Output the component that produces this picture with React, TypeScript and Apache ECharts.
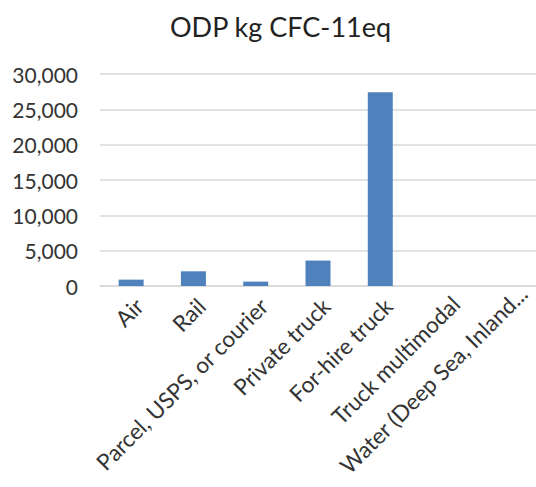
import React, { useEffect, useRef } from "react";
import * as echarts from "echarts";

const titleText = "ODP kg CFC-11eq";
const categories = [
  "Air",
  "Rail",
  "Parcel, USPS, or courier",
  "Private truck",
  "For-hire truck",
  "Truck multimodal",
  "Water (Deep Sea, Inland...",
];
const values = [900, 2080, 620, 3600, 27400, 0, 0];
const yTicks = { min: 0, max: 30000, interval: 5000 };

export default function App() {
  const ref = useRef<HTMLDivElement>(null);
  useEffect(() => {
    if (!ref.current) return;
    const chart = echarts.init(ref.current, null, { renderer: "svg" });
    const font = "Lato, 'Open Sans', sans-serif";
    const labelFont = { fontFamily: font, fontSize: 22.5, color: "#333" };
    chart.setOption({
      animation: false,
      title: {
        text: titleText,
        left: 165,
        top: 8,
        textStyle: { fontFamily: font, fontSize: 27, fontWeight: "normal", color: "#222" },
      },
      grid: {
        left: 100,
        right: 0,
        top: 74,
        bottom: 201,
        containLabel: false,
        outerBoundsMode: "none",
      },
      xAxis: {
        type: "category",
        data: categories,
        axisLine: { show: true, lineStyle: { color: "#d9d9d9", width: 1.5 } },
        axisTick: { show: false },
        axisLabel: {
          rotate: 45,
          interval: 0,
          margin: 8,
          verticalAlign: "top",
          ...labelFont,
          formatter: (v: string, i: number) =>
            i === categories.length - 1 ? `{w|${v}}` : i === 5 ? `{m|${v}}` : v,
          rich: {
            w: { ...labelFont, lineHeight: 20, padding: [0, -16, 0, 0] },
            m: { ...labelFont, padding: [2, -5, 0, 0] },
          },
        },
      },
      yAxis: {
        type: "value",
        min: yTicks.min,
        max: yTicks.max,
        interval: yTicks.interval,
        axisLine: { show: false },
        axisTick: { show: false },
        splitLine: { lineStyle: { color: "#d9d9d9", width: 1.5 } },
        axisLabel: {
          margin: 22,
          fontFamily: font,
          fontSize: 21,
          color: "#333",
          formatter: (v: number) => v.toLocaleString("en-US"),
        },
      },
      series: [
        {
          type: "bar",
          data: values,
          barWidth: 25,
          itemStyle: { color: "#4F81BD" },
        },
      ],
    });
    return () => chart.dispose();
  }, []);
  return <div ref={ref} style={{ width: 536, height: 487, position: "absolute", left: 0, top: 0 }} />;
}
